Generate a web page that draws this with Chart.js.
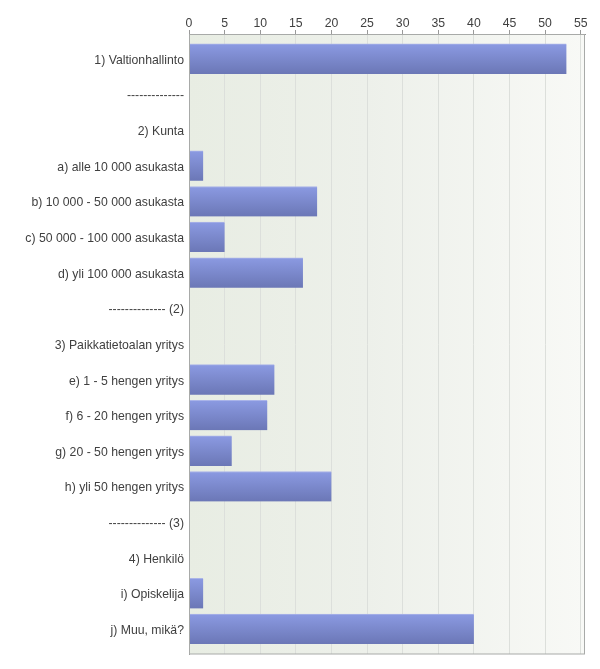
<!DOCTYPE html>
<html>
<head>
<meta charset="utf-8">
<script src="https://cdn.jsdelivr.net/npm/chart.js@4"></script>
<style>
    html, body { margin: 0; padding: 0; background: #ffffff; }
    #wrap { width: 600px; height: 669px; position: relative; }
</style>
</head>
<body>
<div id="wrap"><canvas id="grafico"></canvas></div>
<script>
// Kategoriat (ylhäältä alas)
const categories = [
    '1) Valtionhallinto',
    '--------------',
    '2) Kunta',
    'a) alle 10 000 asukasta',
    'b) 10 000 - 50 000 asukasta',
    'c) 50 000 - 100 000 asukasta',
    'd) yli 100 000 asukasta',
    '-------------- (2)',
    '3) Paikkatietoalan yritys',
    'e) 1 - 5 hengen yritys',
    'f) 6 - 20 hengen yritys',
    'g) 20 - 50 hengen yritys',
    'h) yli 50 hengen yritys',
    '-------------- (3)',
    '4) Henkilö',
    'i) Opiskelija',
    'j) Muu, mikä?'
];

// Vastausten määrät (otsikkoriveillä ei palkkia)
const counts = [53, null, null, 2, 18, 5, 16, null, null, 12, 11, 6, 20, null, null, 2, 40];

// X-akselin jaotus
const xTicks = [0, 5, 10, 15, 20, 25, 30, 35, 40, 45, 50, 55];

const textColor = '#404040';
const fontSpec = { family: 'Arial, "Liberation Sans", sans-serif', size: 12.25 };

// Taustan liukuväri, palkkien liukuväri ja reunat
const plotArea = {
    id: 'plotArea',
    beforeDraw(chart) {
        const { ctx, chartArea: a } = chart;
        const g = ctx.createLinearGradient(a.left, 0, a.right, 0);
        g.addColorStop(0, '#e8ede3');
        g.addColorStop(0.45, '#edf0ea');
        g.addColorStop(1, '#f8f9f6');
        ctx.save();
        ctx.fillStyle = g;
        ctx.fillRect(a.left, a.top, a.right - a.left, a.bottom - a.top);
        ctx.restore();
    },
    beforeDatasetsDraw(chart) {
        const ctx = chart.ctx;
        chart.getDatasetMeta(0).data.forEach(bar => {
            const h = bar.height;
            const top = bar.y - h / 2;
            const g = ctx.createLinearGradient(0, top, 0, top + h);
            g.addColorStop(0, '#8b9ae2');
            g.addColorStop(1, '#6b77b6');
            bar.options = Object.assign({}, bar.options, { backgroundColor: g });
        });
    },
    afterDraw(chart) {
        const { ctx, chartArea: a } = chart;
        ctx.save();
        ctx.strokeStyle = '#a8aaa8';
        ctx.lineWidth = 1;
        ctx.strokeRect(a.left + 0.5, a.top + 0.5, a.right - a.left - 1, a.bottom - a.top - 0.5);
        ctx.restore();
    }
};

const ctx = document.getElementById('grafico').getContext('2d');
new Chart(ctx, {
    type: 'bar',
    data: {
        datasets: [{
            data: counts.map((v, i) => ({ x: v, y: i })),
            backgroundColor: '#7b88cc',
            borderColor: '#aab4e8',
            borderWidth: { top: 1, right: 0, bottom: 0, left: 0 },
            borderSkipped: false,
            barThickness: 30
        }]
    },
    options: {
        indexAxis: 'y',
        responsive: true,
        maintainAspectRatio: false,
        animation: false,
        layout: { padding: { top: 0, right: 15, bottom: 15, left: 0 } },
        plugins: {
            legend: { display: false },
            tooltip: { enabled: false }
        },
        scales: {
            x: {
                type: 'linear',
                position: 'top',
                min: 0,
                max: 55.6,
                afterBuildTicks: scale => {
                    scale.ticks = xTicks.map(v => ({ value: v }));
                },
                afterFit: scale => { scale.height = 34; },
                ticks: {
                    color: textColor,
                    font: fontSpec,
                    padding: -1
                },
                grid: {
                    color: '#dcdfdb',
                    tickColor: '#999999',
                    tickLength: 4
                },
                border: { color: '#999999' }
            },
            y: {
                type: 'linear',
                reverse: true,
                offset: false,
                min: -0.7,
                max: 16.7,
                afterBuildTicks: scale => {
                    scale.ticks = categories.map((c, i) => ({ value: i }));
                },
                afterFit: scale => { scale.width = 189; },
                ticks: {
                    color: textColor,
                    font: fontSpec,
                    padding: 5,
                    labelOffset: 1.5,
                    callback: value => categories[value]
                },
                grid: { display: false, drawTicks: false, offset: false },
                border: { color: '#999999' }
            }
        }
    },
    plugins: [plotArea]
});
</script>
</body>
</html>
